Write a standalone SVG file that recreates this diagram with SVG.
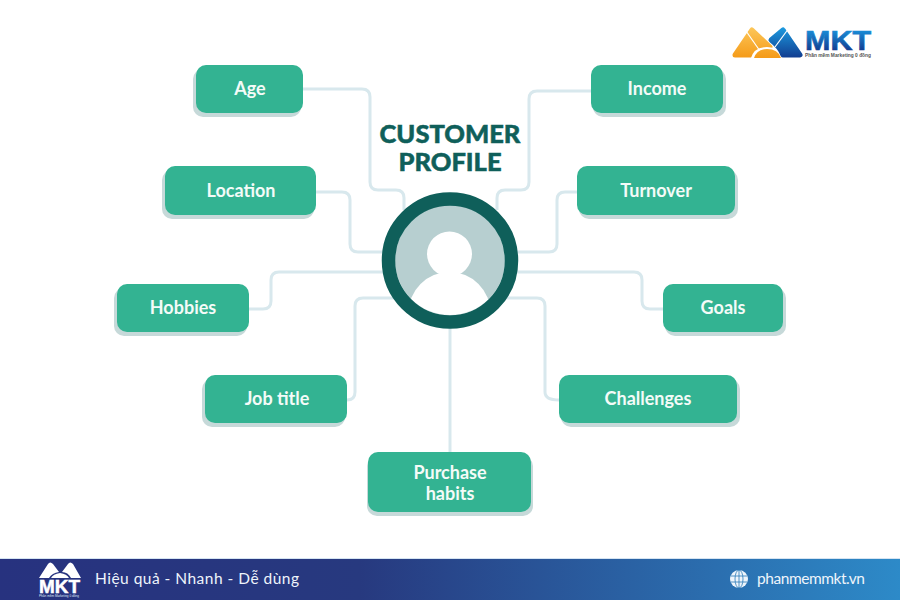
<svg xmlns="http://www.w3.org/2000/svg" width="900" height="600" viewBox="0 0 900 600">
<style>
.conn{fill:none;stroke:#d8e8ed;stroke-width:3}
.shadow{fill:#c6d9d9}
.box{fill:#33b392}
.lbl{font-family:"Lato","Liberation Sans",sans-serif;font-weight:700;font-size:18px;fill:#f4fbf8;text-anchor:middle}
.title{font-family:"Lato","Liberation Sans",sans-serif;font-weight:900;font-size:25.500px;fill:#0f5f5a;text-anchor:middle;stroke:#0f5f5a;stroke-width:.5}
.foot{font-family:"Lato","Liberation Sans",sans-serif;font-weight:400;fill:#eef4fb}
</style>
<defs>
<linearGradient id="band" x1="0" x2="1" y1="0" y2="0"><stop offset="0" stop-color="#27327f"/><stop offset=".4" stop-color="#27397f"/><stop offset="1" stop-color="#2d8ac8"/></linearGradient>
<linearGradient id="org" gradientUnits="userSpaceOnUse" x1="0" x2="0" y1="27" y2="57"><stop offset="0" stop-color="#fcc75a"/><stop offset="1" stop-color="#f59c1a"/></linearGradient>
<linearGradient id="blu" gradientUnits="userSpaceOnUse" x1="0" x2="0" y1="27" y2="57"><stop offset="0" stop-color="#1c9be0"/><stop offset="1" stop-color="#123f92"/></linearGradient>
<linearGradient id="mkt" gradientUnits="userSpaceOnUse" x1="0" x2="0" y1="30" y2="50"><stop offset="0" stop-color="#1a8ed8"/><stop offset="1" stop-color="#123f92"/></linearGradient>
<clipPath id="inner"><circle cx="450" cy="260" r="55"/></clipPath>
</defs>
<rect width="900" height="600" fill="#fff"/>
<g id="connectors" class="conn">
<path d="M303 89H362Q370 89 370 97V182Q370 190 378 190H396Q404 190 404 198V210"/>
<path d="M316 192H342Q350 192 350 200V244Q350 252 358 252H384"/>
<path d="M249 309H263Q271 309 271 301V280Q271 272 279 272H384"/>
<path d="M347 400Q355 400 355 392V306Q355 298 363 298H396"/>
<path d="M450 326V452"/>
<path d="M591 91H537Q529 91 529 99V182Q529 190 521 190H505Q497 190 497 198V210"/>
<path d="M577 192H565Q557 192 557 200V244Q557 252 549 252H516"/>
<path d="M663 309H650Q642 309 642 301V280Q642 272 634 272H516"/>
<path d="M559 400Q545 400 545 392V306Q545 298 537 298H504"/>
</g>
<g id="title"><text class="title" x="450" y="143">CUSTOMER</text><text class="title" x="450" y="171">PROFILE</text></g>
<g id="center">
<circle cx="450" cy="260" r="55" fill="#b7cfd0"/>
<g clip-path="url(#inner)" fill="#fff">
<circle cx="449.500" cy="254" r="22.500"/>
<ellipse cx="449.500" cy="313" rx="41" ry="41"/>
</g>
<circle cx="450" cy="260.500" r="61.500" fill="none" stroke="#0f5f5a" stroke-width="13.500"/>
</g>
<g id="node-age"><rect class="shadow" x="193" y="69" width="108" height="48" rx="10"/><rect class="box" x="196" y="65" width="107" height="48" rx="10"/><text class="lbl" x="250" y="95">Age</text></g>
<g id="node-location"><rect class="shadow" x="162" y="170" width="152" height="49" rx="10"/><rect class="box" x="165" y="166" width="151" height="49" rx="10"/><text class="lbl" x="241" y="197">Location</text></g>
<g id="node-hobbies"><rect class="shadow" x="114" y="288" width="133" height="48" rx="10"/><rect class="box" x="117" y="284" width="132" height="48" rx="10"/><text class="lbl" x="183" y="314">Hobbies</text></g>
<g id="node-job"><rect class="shadow" x="202" y="379" width="143" height="48" rx="10"/><rect class="box" x="205" y="375" width="142" height="48" rx="10"/><text class="lbl" x="277" y="405">Job title</text></g>
<g id="node-purchase"><rect class="shadow" x="367" y="456" width="166" height="60" rx="10"/><rect class="box" x="368" y="452" width="163" height="60" rx="10"/><text class="lbl" x="450" y="479">Purchase</text><text class="lbl" x="450" y="500">habits</text></g>
<g id="node-income"><rect class="shadow" x="593" y="69" width="133" height="48" rx="10"/><rect class="box" x="591" y="65" width="132" height="48" rx="10"/><text class="lbl" x="657" y="95">Income</text></g>
<g id="node-turnover"><rect class="shadow" x="579" y="170" width="159" height="49" rx="10"/><rect class="box" x="577" y="166" width="158" height="49" rx="10"/><text class="lbl" x="656" y="197">Turnover</text></g>
<g id="node-goals"><rect class="shadow" x="665" y="288" width="121" height="48" rx="10"/><rect class="box" x="663" y="284" width="120" height="48" rx="10"/><text class="lbl" x="723" y="314">Goals</text></g>
<g id="node-challenges"><rect class="shadow" x="561" y="379" width="179" height="48" rx="10"/><rect class="box" x="559" y="375" width="178" height="48" rx="10"/><text class="lbl" x="648" y="405">Challenges</text></g>
<g id="logo">
<path d="M735 55L752 30L770 47L764 55Z" fill="url(#org)" stroke="url(#org)" stroke-width="5" stroke-linejoin="round"/>
<path d="M746 31L760 51" stroke="#fff" stroke-width="1.200" fill="none"/>
<path d="M751 58Q754 47 767 47Q780 47 784 58Z" fill="#fff"/>
<path d="M754 58Q757 49 767 49Q778 49 781 58Z" fill="url(#org)"/>
<path d="M771 40L783 30L800 55H783Q780 47 771 40Z" fill="url(#blu)" stroke="url(#blu)" stroke-width="5" stroke-linejoin="round"/>
<path d="M789 28L775 47" stroke="#fff" stroke-width="1.200" fill="none"/>
<text x="805" y="50" font-family="'Liberation Sans',sans-serif" font-weight="700" font-size="28.500" fill="url(#mkt)" stroke="url(#mkt)" stroke-width=".7" textLength="66" lengthAdjust="spacingAndGlyphs">MKT</text>
<text x="805" y="57" font-family="'Liberation Sans',sans-serif" font-weight="700" font-size="5.200" fill="#555" textLength="66" lengthAdjust="spacingAndGlyphs">Phần mềm Marketing 0 đồng</text>
</g>
<g id="footer">
<rect y="558" width="900" height="2" fill="#d5e4f2"/>
<rect y="559" width="900" height="41" fill="url(#band)"/>
<path d="M39 578L48 564Q50 561 53 564L59 572Q52 573 49 578Z" fill="#fff"/>
<path d="M62 572L68 564Q70 561 73 564L81 578H71Q68 572 62 572Z" fill="#fff"/>
<path d="M51 578Q53 574 60 573Q67 574 69 578Z" fill="#fff"/>
<text x="39" y="593" font-family="'Liberation Sans',sans-serif" font-weight="700" font-size="18" fill="#fff" stroke="#fff" stroke-width=".5" textLength="41" lengthAdjust="spacingAndGlyphs">MKT</text>
<text x="39" y="597" font-family="'Liberation Sans',sans-serif" font-size="2.800" fill="#dfe8f5" textLength="40" lengthAdjust="spacingAndGlyphs">Phần mềm Marketing 0 đồng</text>
<text class="foot" x="95" y="584" font-size="15.500" textLength="204" lengthAdjust="spacing">Hiệu quả - Nhanh - Dễ dùng</text>
<circle cx="739" cy="579" r="9" fill="#eef4fb"/>
<g fill="none" stroke="#2a7ab8" stroke-width=".8"><ellipse cx="739" cy="579" rx="4" ry="9"/><path d="M739 570V588M730.500 576H747.500M730.500 582H747.500"/></g>
<text class="foot" x="757" y="584" font-size="15.500" textLength="108" lengthAdjust="spacing">phanmemmkt.vn</text>
</g>
</svg>
